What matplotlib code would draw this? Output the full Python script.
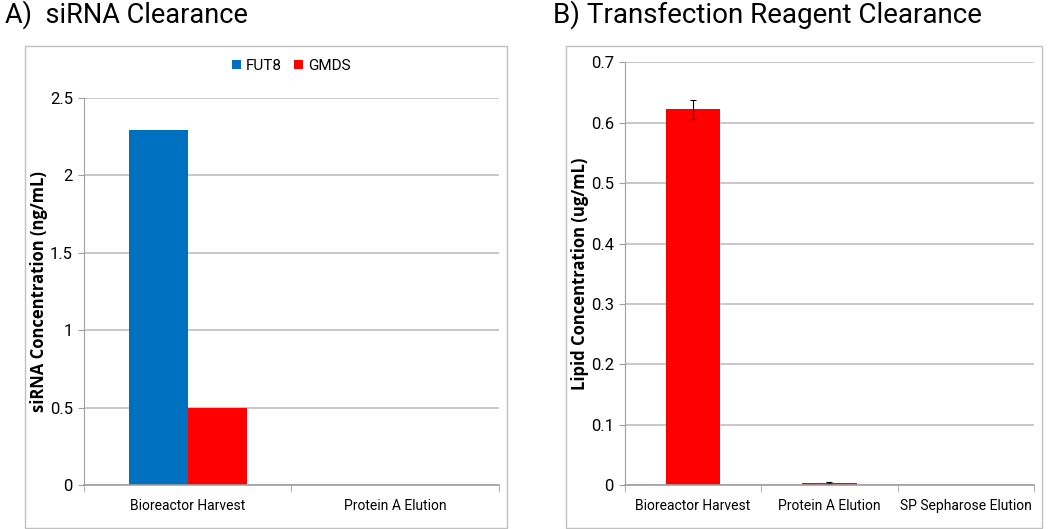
import numpy as np
import matplotlib.pyplot as plt
from matplotlib.patches import Rectangle

# panel A data
sirna_categories = ["Bioreactor Harvest", "Protein A Elution"]
fut8_values = [2.29, 0.0]
gmds_values = [0.50, 0.0]

# panel B data
lipid_categories = ["Bioreactor Harvest", "Protein A Elution", "SP Sepharose Elution"]
lipid_values = [0.622, 0.004]
lipid_errors = [0.015, 0.002]

BLUE = "#0070c0"
RED = "#ff0000"
GRID = "#bfbfbf"

plt.rcParams['font.family'] = ['Roboto', 'DejaVu Sans']

fig = plt.figure(figsize=(10.5, 5.29), dpi=100)

# frames around each panel
for x0, w in [(0.0238, 0.459), (0.539, 0.4533)]:
    fig.patches.append(Rectangle((x0, 0.002), w, 0.911, transform=fig.transFigure,
                                 fill=False, edgecolor="#c0c0c0", linewidth=1.0))


def style_axis(ax, n_cat):
    ax.set_xlim(-0.5, n_cat - 0.5)
    ax.yaxis.grid(True, color=GRID, linewidth=1.2)
    ax.set_axisbelow(True)
    for s in ["top", "right"]:
        ax.spines[s].set_visible(False)
    ax.spines["left"].set_color("#a0a0a0")
    ax.spines["bottom"].set_color("#a0a0a0")
    ax.spines["bottom"].set_linewidth(1.2)
    ax.tick_params(axis="y", length=4, color="#a0a0a0", labelsize=12, pad=4)
    ax.set_xticks(np.arange(n_cat))
    ax.tick_params(axis="x", length=0, labelsize=10, pad=10)
    # separators between categories on the x axis
    ax.set_xticks(np.arange(n_cat + 1) - 0.5, minor=True)
    ax.tick_params(axis="x", which="minor", length=5, color="#a0a0a0")


ylabel_font = dict(fontsize=12, fontweight="bold", family=["Open Sans", "DejaVu Sans"])

# A) siRNA clearance
ax1 = fig.add_axes([0.08, 0.0832, 0.3952, 0.7316])
x1 = np.arange(len(sirna_categories))
bw = 0.285
ax1.bar(x1 - bw / 2, fut8_values, bw, color=BLUE, label="FUT8")
ax1.bar(x1 + bw / 2, gmds_values, bw, color=RED, label="GMDS")
ax1.set_ylim(0, 2.5)
ax1.set_yticks([0, 0.5, 1, 1.5, 2, 2.5])
ax1.set_yticklabels(["0", "0.5", "1", "1.5", "2", "2.5"])
style_axis(ax1, len(sirna_categories))
ax1.set_xticklabels(sirna_categories)
ax1.set_ylabel("siRNA Concentration (ng/mL)", labelpad=1, **ylabel_font)
ax1.legend(loc="center", bbox_to_anchor=(0.5, 1.083), ncol=2, frameon=False,
           fontsize=11, handlelength=0.6, handleheight=0.6, handletextpad=0.3,
           columnspacing=0.8)

# B) transfection reagent clearance
ax2 = fig.add_axes([0.5952, 0.0826, 0.3895, 0.7996])
x2 = np.arange(len(lipid_values))
ax2.bar(x2, lipid_values, 0.40, color=RED, yerr=lipid_errors,
        error_kw=dict(ecolor="black", elinewidth=0.8, capsize=2, capthick=0.8))
ax2.set_ylim(0, 0.7)
ax2.set_yticks(np.arange(0, 0.71, 0.1))
ax2.set_yticklabels(["0", "0.1", "0.2", "0.3", "0.4", "0.5", "0.6", "0.7"])
style_axis(ax2, len(lipid_categories))
ax2.set_xticklabels(lipid_categories)
ax2.set_ylabel("Lipid Concentration (ug/mL)", labelpad=1, **ylabel_font)

fig.text(0.005, 0.972, "A)  siRNA Clearance", fontsize=19.5, va="center", ha="left")
fig.text(0.527, 0.972, "B) Transfection Reagent Clearance", fontsize=20, va="center", ha="left")

fig.savefig("out.png", dpi=100)
